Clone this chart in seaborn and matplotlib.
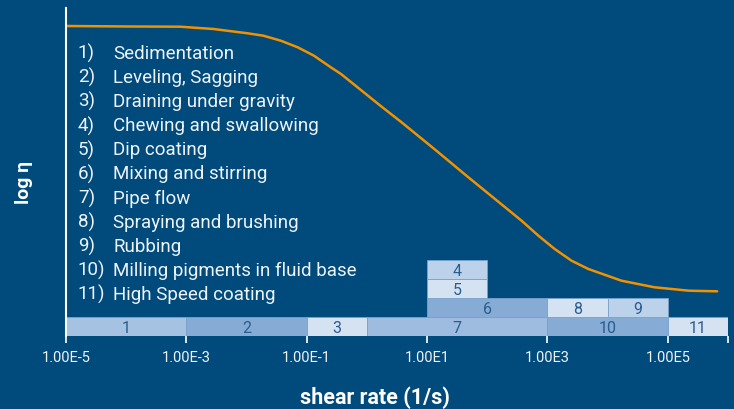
import numpy as np
import pandas as pd
import seaborn as sns
import matplotlib.pyplot as plt

# flow curve (log10 of shear rate, log viscosity in arbitrary units)
log_shear = [-5.0, -3.93, -3.1, -2.55, -1.98, -1.72, -1.43, -1.15, -0.88, -0.6,
             -0.43, -0.1, 0.23, 0.57, 1.12, 1.68, 2.23, 2.57, 2.85, 3.12,
             3.4, 3.68, 4.23, 4.78, 5.35, 5.82]
log_eta = [310, 309.5, 309.3, 307, 302.7, 300.3, 295.3, 288.7, 280.3, 268.7,
           262, 246, 230, 214, 187, 159, 132, 115.3, 100.3, 87,
           75.3, 67, 55.3, 48.7, 45.3, 44.7]

# shear rate ranges of the applications
bar_labels = ['1', '2', '3', '7', '10', '11', '6', '8', '9', '5', '4']
bar_start = [1e-5, 1e-3, 1e-1, 1e0, 1e3, 1e5, 1e1, 1e3, 1e4, 1e1, 1e1]
bar_end = [1e-3, 1e-1, 1e0, 1e3, 1e5, 1e6, 1e3, 1e4, 1e5, 1e2, 1e2]
bar_level = [0, 0, 0, 0, 0, 0, 1, 1, 1, 2, 3]

applications = ['Sedimentation', 'Leveling, Sagging', 'Draining under gravity',
                'Chewing and swallowing', 'Dip coating', 'Mixing and stirring',
                'Pipe flow', 'Spraying and brushing', 'Rubbing',
                'Milling pigments in fluid base', 'High Speed coating']

tick_values = [1e-5, 1e-3, 1e-1, 1e1, 1e3, 1e5, 1e6]
tick_labels = ['1.00E-5', '1.00E-3', '1.00E-1', '1.00E1', '1.00E3', '1.00E5', '']

BG = '#004a7c'
FG = '#eef3f8'
NUM = '#2a5d90'
bar_colors = ['#a6c2e2', '#86abd4', '#d5e2f2', '#9dbce0', '#86abd4', '#d5e2f2',
              '#86abd4', '#d5e2f2', '#bcd2ea', '#d5e2f2', '#bcd2ea']

sns.set_style("white", {"axes.facecolor": BG, "figure.facecolor": BG})
plt.rcParams['font.family'] = ['Roboto', 'DejaVu Sans']

fig = plt.figure(figsize=(7.34, 4.10), dpi=100)
ax = fig.add_axes([66 / 734, 1 - 337 / 410, (728 - 66) / 734, (337 - 9) / 410])

curve = pd.DataFrame({'rate': 10.0 ** np.array(log_shear), 'eta': log_eta})
sns.lineplot(data=curve, x='rate', y='eta', ax=ax, color='#f39200', lw=1.8, zorder=3)
ax.set_xscale('log')

row_h = 19
for lab, s, e, lev, c in zip(bar_labels, bar_start, bar_end, bar_level, bar_colors):
    ax.barh(lev * row_h, e - s, left=s, height=row_h, align='edge',
            color=c, edgecolor='#7aa2cd', linewidth=0.6, zorder=2)
    ax.text(np.sqrt(s * e), lev * row_h + 4, lab, ha='center', va='baseline',
            color=NUM, fontsize=11.5, zorder=4)

for i, name in enumerate(applications):
    y = (337 - (59 + 24.1 * i)) / 328
    ax.text(0.018, y, f'{i + 1})', transform=ax.transAxes, color=FG,
            fontsize=13.5, va='baseline', ha='left')
    ax.text(0.071, y, name, transform=ax.transAxes, color=FG,
            fontsize=13.5, va='baseline', ha='left')

ax.set_xlim(1e-5, 1e6)
ax.set_ylim(0, 328)
ax.set_xticks(tick_values)
ax.set_xticklabels(tick_labels)
ax.minorticks_off()
ax.set_yticks([])
ax.tick_params(axis='x', colors=FG, length=5, width=1.3, pad=5, labelsize=10.5,
               bottom=True, direction='out')

for side in ['top', 'right', 'bottom']:
    ax.spines[side].set_visible(False)
ax.spines['left'].set_color('white')
ax.spines['left'].set_linewidth(1.5)
ax.spines['left'].set_zorder(5)

ax.set_xlabel('shear rate (1/s)', color='white', fontsize=15.5, fontweight='bold')
ax.xaxis.set_label_coords(0.467, -0.152)
ax.set_ylabel('log η', color='white', fontsize=14, fontweight='bold')
ax.yaxis.set_label_coords(-0.05, 0.47)

fig.savefig('out.png', dpi=100, facecolor=BG)
